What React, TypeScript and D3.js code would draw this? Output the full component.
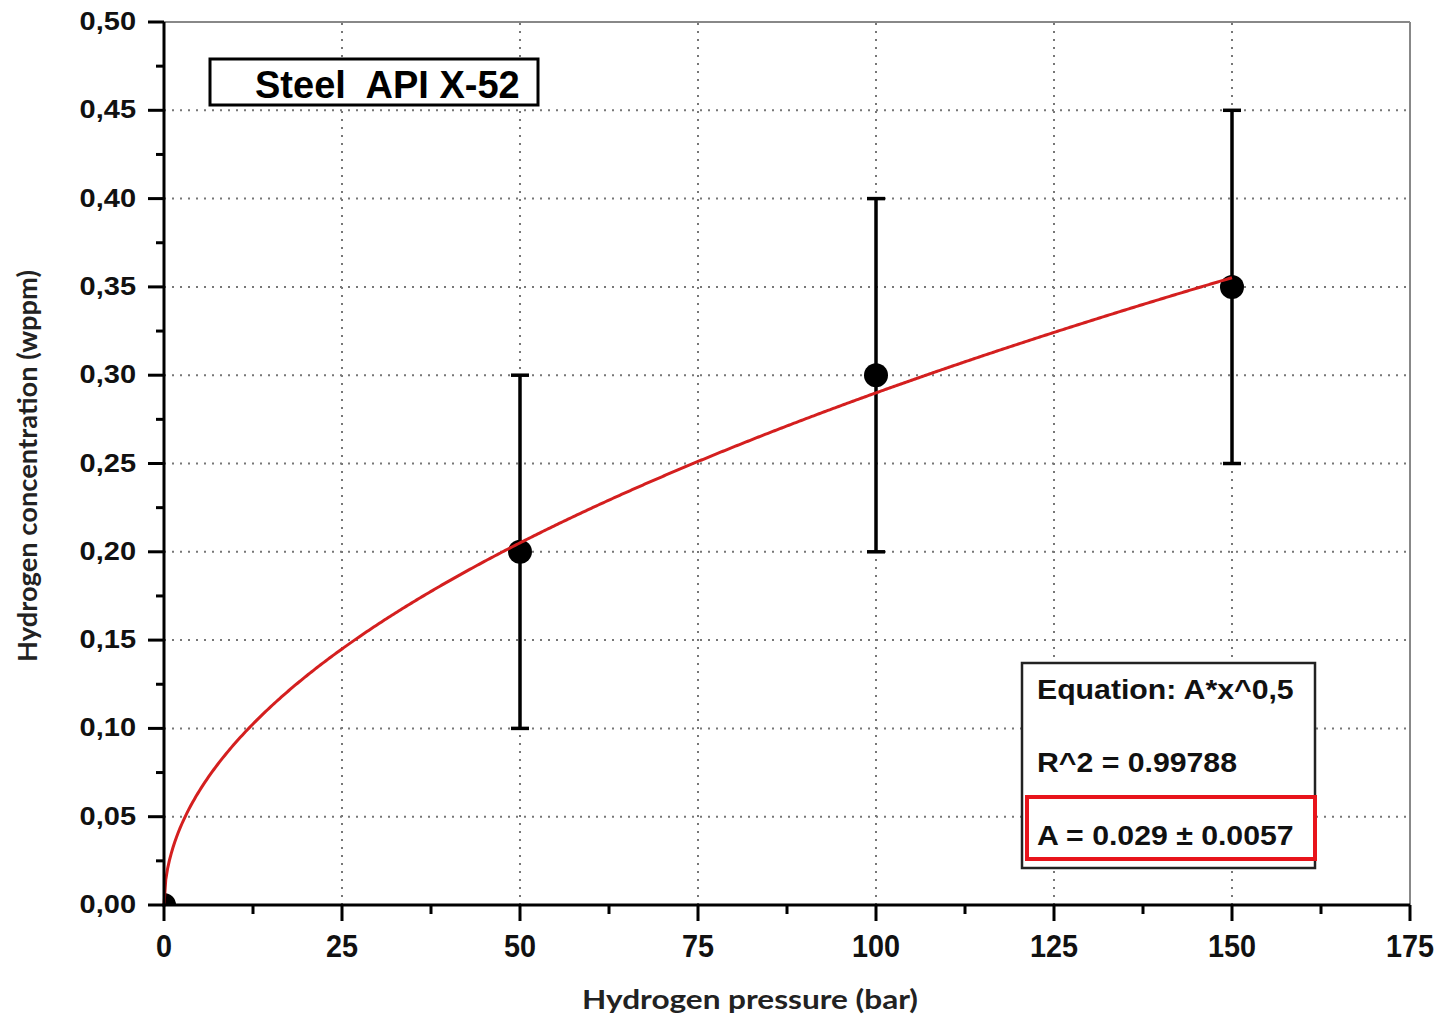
import React from "react";
import { scaleLinear, line, range } from "d3";

// measured points (pressure in bar, concentration in wppm)
const pressures = [0, 50, 100, 150];
const concentrations = [0, 0.2, 0.3, 0.35];
const errLow = [0, 0.1, 0.2, 0.25];
const errHigh = [0, 0.3, 0.4, 0.45];

const xTicks = [0, 25, 50, 75, 100, 125, 150, 175];
const yTicks = [0, 0.05, 0.1, 0.15, 0.2, 0.25, 0.3, 0.35, 0.4, 0.45, 0.5];

const fitA = 0.029;
const fitLines = ["Equation: A*x^0,5", "R^2 = 0.99788", "A = 0.029 \u00b1 0.0057"];

const W = 1442;
const H = 1022;
const tickFont = "'Liberation Sans', Arial, sans-serif";
const titleFont = "Lato, 'Open Sans', sans-serif";

// text squeezed or stretched on x only, like the scanned original
function SText({ x, y, sx, anchor, size, family, children, fill = "#111" }: any) {
  return (
    <g transform={`translate(${x},${y}) scale(${sx},1)`}>
      <text x={0} y={0} textAnchor={anchor} fontFamily={family} fontWeight="bold"
        fontSize={size} fill={fill} style={{ whiteSpace: "pre" }}>
        {children}
      </text>
    </g>
  );
}

export default function App() {
  const x = scaleLinear().domain([0, 175]).range([164, 1410]);
  const y = scaleLinear().domain([0, 0.5]).range([905, 22]);

  const fitPts = range(0, 150.01, 0.25).map((p) => [p, fitA * Math.sqrt(p)]);
  const fitPath = line<number[]>()
    .x((d) => x(d[0]))
    .y((d) => y(d[1]))(fitPts);

  const minorY = range(0.025, 0.5, 0.05);
  const minorX = range(12.5, 175, 25);

  return (
    <svg
      width={W}
      height={H}
      style={{ position: "absolute", left: 0, top: 0, background: "#fff" }}
    >
      <defs>
        <clipPath id="plot">
          <rect x={x(0)} y={y(0.5)} width={x(175) - x(0)} height={y(0) - y(0.5)} />
        </clipPath>
      </defs>

      {/* grid */}
      {xTicks.slice(1, -1).map((t) => (
        <line key={"gx" + t} x1={x(t)} x2={x(t)} y1={y(0)} y2={y(0.5)}
          stroke="#777" strokeWidth={2} strokeDasharray="2 6" />
      ))}
      {yTicks.slice(1, -1).map((t) => (
        <line key={"gy" + t} x1={x(0)} x2={x(175)} y1={y(t)} y2={y(t)}
          stroke="#777" strokeWidth={2} strokeDasharray="2 6" />
      ))}

      {/* top and right frame */}
      <line x1={x(0)} x2={x(175)} y1={y(0.5)} y2={y(0.5)} stroke="#888" strokeWidth={2} />
      <line x1={x(175)} x2={x(175)} y1={y(0.5)} y2={y(0)} stroke="#888" strokeWidth={2} />

      {/* error bars */}
      {pressures.map((p, i) =>
        errHigh[i] > errLow[i] ? (
          <g key={"e" + p} stroke="#000" strokeWidth={3.5}>
            <line x1={x(p)} x2={x(p)} y1={y(errLow[i])} y2={y(errHigh[i])} />
            <line x1={x(p) - 9} x2={x(p) + 9} y1={y(errLow[i])} y2={y(errLow[i])} />
            <line x1={x(p) - 9} x2={x(p) + 9} y1={y(errHigh[i])} y2={y(errHigh[i])} />
          </g>
        ) : null
      )}

      {/* points */}
      <g clipPath="url(#plot)">
        {pressures.map((p, i) => (
          <circle key={"p" + p} cx={x(p)} cy={y(concentrations[i])} r={12} fill="#000" />
        ))}
      </g>

      {/* fit curve */}
      <path d={fitPath || ""} fill="none" stroke="#d41f1f" strokeWidth={3} />

      {/* axes */}
      <line x1={x(0)} x2={x(0)} y1={y(0) + 1.5} y2={y(0.5)} stroke="#000" strokeWidth={3} />
      <line x1={x(0) - 1.5} x2={x(175)} y1={y(0)} y2={y(0)} stroke="#000" strokeWidth={3} />

      {yTicks.map((t) => (
        <g key={"ty" + t}>
          <line x1={x(0) - 16} x2={x(0)} y1={y(t)} y2={y(t)} stroke="#000" strokeWidth={3} />
          <SText x={136} y={y(t) + 8} sx={1.16} anchor="end" size={25} family={tickFont}>
            {t.toFixed(2).replace(".", ",")}
          </SText>
        </g>
      ))}
      {minorY.map((t) => (
        <line key={"my" + t} x1={x(0) - 8} x2={x(0)} y1={y(t)} y2={y(t)} stroke="#000" strokeWidth={3} />
      ))}

      {xTicks.map((t) => (
        <g key={"tx" + t}>
          <line x1={x(t)} x2={x(t)} y1={y(0)} y2={y(0) + 16} stroke="#000" strokeWidth={3} />
          <SText x={x(t)} y={957} sx={0.93} anchor="middle" size={31} family={tickFont}>
            {t}
          </SText>
        </g>
      ))}
      {minorX.map((t) => (
        <line key={"mx" + t} x1={x(t)} x2={x(t)} y1={y(0)} y2={y(0) + 9} stroke="#000" strokeWidth={3} />
      ))}

      {/* axis titles */}
      <text x={750} y={1009} textAnchor="middle" fontFamily={titleFont}
        fontWeight="bold" fontSize={27} fill="#222" textLength={336} lengthAdjust="spacingAndGlyphs">
        Hydrogen pressure (bar)
      </text>
      <text transform={`translate(37, 466) rotate(-90)`} textAnchor="middle"
        fontFamily={titleFont} fontWeight="bold" fontSize={27} fill="#222"
        textLength={392} lengthAdjust="spacingAndGlyphs">
        Hydrogen concentration (wppm)
      </text>

      {/* title box */}
      <rect x={210} y={59} width={328} height={46} fill="#fff" stroke="#000" strokeWidth={3} />
      <SText x={255} y={98} sx={1} anchor="start" size={38} family={tickFont} fill="#000">
        {"Steel  API X-52"}
      </SText>

      {/* fit result box */}
      <rect x={1022} y={663} width={293} height={205} fill="#fff" stroke="#222" strokeWidth={2.5} />
      <rect x={1027} y={797} width={288} height={62} fill="none" stroke="#e8141b" strokeWidth={4} />
      {fitLines.map((s, i) => (
        <SText key={s} x={1037} y={699 + i * 73} sx={1.08} anchor="start" size={28} family={tickFont}>
          {s}
        </SText>
      ))}
    </svg>
  );
}
